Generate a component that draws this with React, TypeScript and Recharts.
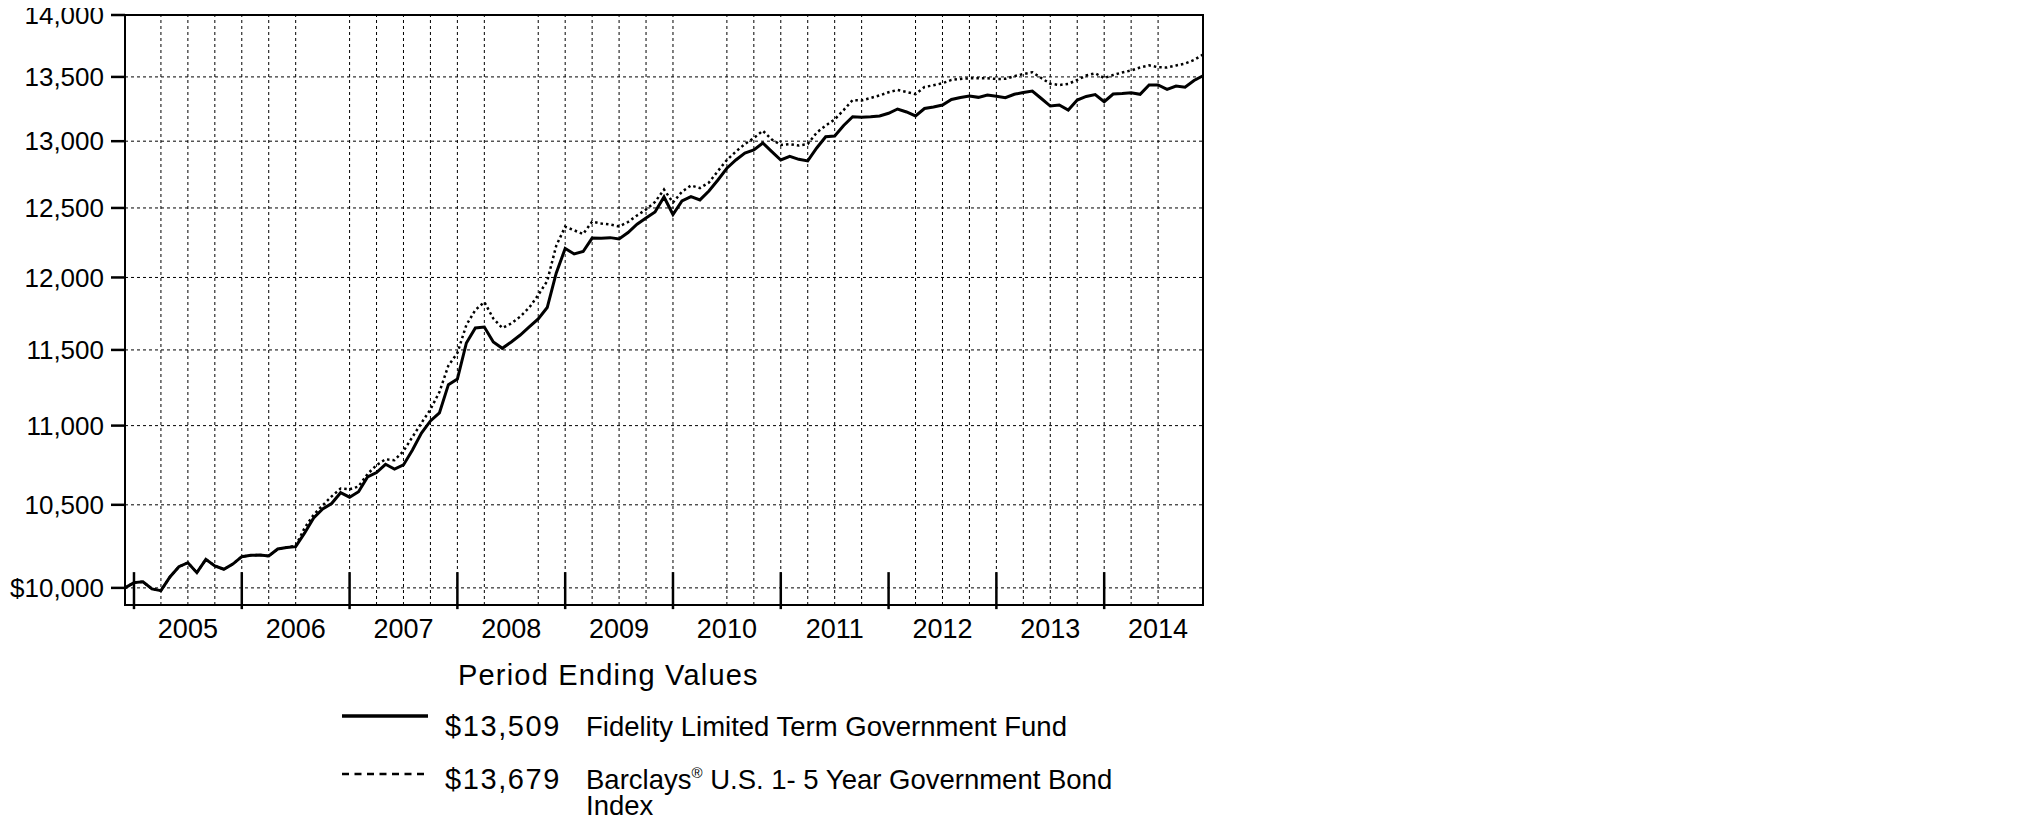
import React from 'react';
import {
  LineChart,
  Line,
  XAxis,
  YAxis,
  CartesianGrid,
  ReferenceLine,
  ReferenceArea,
} from 'recharts';

// ---- data (monthly, index 0 = start of the 10-year period) ----
const years = ['2005', '2006', '2007', '2008', '2009', '2010', '2011', '2012', '2013', '2014'];

const fundValues = [
  10000, 10031, 10036, 9994, 9984, 10064, 10125, 10149, 10090, 10169,
  10130, 10110, 10141, 10185, 10193, 10195, 10189, 10231, 10240, 10245,
  10328, 10419, 10474, 10508, 10575, 10547, 10581, 10673, 10701, 10753,
  10723, 10749, 10844, 10952, 11030, 11082, 11268, 11305, 11547, 11649,
  11656, 11554, 11511, 11554, 11601, 11656, 11711, 11790, 12030, 12206,
  12167, 12184, 12281, 12280, 12284, 12274, 12321, 12381, 12427, 12470,
  12581, 12452, 12551, 12584, 12559, 12625, 12707, 12795, 12857, 12910,
  12933, 12986, 12921, 12857, 12885, 12862, 12850, 12948, 13034, 13040,
  13120, 13188, 13184, 13188, 13194, 13215, 13248, 13225, 13194, 13252,
  13264, 13279, 13322, 13338, 13350, 13339, 13357, 13347, 13336, 13363,
  13377, 13389, 13330, 13271, 13279, 13240, 13318, 13346, 13361, 13305,
  13365, 13369, 13375, 13363, 13436, 13436, 13402, 13428, 13418, 13472,
  13509,
];

const indexValues = [
  10000, 10031, 10036, 9994, 9984, 10064, 10125, 10149, 10090, 10169,
  10130, 10110, 10141, 10185, 10193, 10195, 10189, 10231, 10240, 10250,
  10359, 10439, 10497, 10552, 10601, 10596, 10614, 10692, 10747, 10785,
  10779, 10837, 10927, 11017, 11105, 11219, 11395, 11479, 11670, 11773,
  11828, 11714, 11649, 11680, 11728, 11790, 11877, 11975, 12225, 12363,
  12337, 12310, 12400, 12387, 12379, 12365, 12397, 12445, 12489, 12544,
  12636, 12540, 12620, 12666, 12647, 12688, 12774, 12857, 12921, 12978,
  13024, 13080, 13013, 12971, 12977, 12967, 12978, 13066, 13120, 13167,
  13240, 13318, 13315, 13334, 13354, 13379, 13397, 13381, 13365, 13420,
  13434, 13450, 13476, 13484, 13489, 13489, 13489, 13484, 13485, 13506,
  13523, 13537, 13491, 13446, 13436, 13445, 13476, 13511, 13529, 13491,
  13515, 13535, 13551, 13575, 13592, 13577, 13575, 13591, 13606, 13635,
  13679,
];

const yTicks = [10000, 10500, 11000, 11500, 12000, 12500, 13000, 13500, 14000];
const yTickLabels = ['$10,000', '10,500', '11,000', '11,500', '12,000', '12,500', '13,000', '13,500', '14,000'];

// month positions of the year labels (mid-year), the heavy year marks, and the dotted grid
const yearLabelMonths = [7, 19, 31, 43, 55, 67, 79, 91, 103, 115];
const yearMarkMonths = [1, 13, 25, 37, 49, 61, 73, 85, 97, 109];
const gridMonths = [
  4, 7, 10, 13, 16, 19, 25, 28, 31, 34, 37, 40, 46, 49, 52, 55, 58, 61,
  67, 70, 73, 76, 79, 82, 88, 91, 94, 97, 100, 103, 106, 109, 112, 115,
];

const legendTitle = 'Period Ending Values';
const legendValues = ['$13,509', '$13,679'];
const legendNames = ['Fidelity Limited Term Government Fund', 'Barclays'];

const data = fundValues.map((v, i) => ({ m: i, fund: v, index: indexValues[i] }));

const FONT = '"Liberation Sans", Arial, sans-serif';

export default function App() {
  return (
    <div style={{ position: 'relative', width: 2017, height: 828, marginTop: -8, fontFamily: FONT }}>
      <LineChart
        width={1260}
        height={828}
        data={data}
        margin={{ top: 15, right: 65, bottom: 183, left: 0 }}
        style={{ fontFamily: FONT }}
      >
        <CartesianGrid vertical={false} stroke="#000" strokeWidth={1} strokeDasharray="3 3" />
        {gridMonths.map((m) => (
          <ReferenceLine key={'g' + m} x={m} stroke="#000" strokeWidth={1} strokeDasharray="3 3" />
        ))}
        <ReferenceArea x1={0} x2={120} y1={9900} y2={14000} fill="none" fillOpacity={0} stroke="#000" strokeWidth={2} />
        <XAxis
          type="number"
          dataKey="m"
          domain={[0, 120]}
          ticks={yearLabelMonths}
          interval={0}
          tickFormatter={(v: number) => years[yearLabelMonths.indexOf(v)]}
          tickLine={false}
          tickSize={6}
          tickMargin={8}
          height={40}
          axisLine={{ stroke: '#000', strokeWidth: 2 }}
          tick={{ fill: '#000', fontSize: 27, fontFamily: FONT }}
        />
        <YAxis
          scale="log"
          domain={[9900, 14000]}
          allowDataOverflow
          ticks={yTicks}
          interval={0}
          tickFormatter={(v: number) => yTickLabels[yTicks.indexOf(v)]}
          width={117}
          tickSize={14}
          tickMargin={7}
          tickLine={{ stroke: '#000', strokeWidth: 2.5 }}
          axisLine={{ stroke: '#000', strokeWidth: 2 }}
          tick={{ fill: '#000', fontSize: 26, fontFamily: FONT }}
        />
        {yearMarkMonths.map((m) => (
          <ReferenceLine
            key={'t' + m}
            segment={[{ x: m, y: 9876 }, { x: m, y: 10093 }]}
            stroke="#000"
            strokeWidth={2.5}
            ifOverflow="visible"
          />
        ))}
        <Line
          type="linear"
          dataKey="index"
          stroke="#000"
          strokeWidth={2.5}
          strokeDasharray="2.5 3"
          dot={false}
          isAnimationActive={false}
        />
        <Line
          type="linear"
          dataKey="fund"
          stroke="#000"
          strokeWidth={3}
          dot={false}
          isAnimationActive={false}
        />
      </LineChart>
      <svg
        width={1400}
        height={188}
        style={{ position: 'absolute', left: 0, top: 640, fontFamily: FONT }}
      >
        <text x={450} y={45} fontSize={29} letterSpacing={1.2} fill="#000">{legendTitle}</text>
        <line x1={334} x2={420} y1={76} y2={76} stroke="#000" strokeWidth={3.5} />
        <text x={437} y={96} fontSize={29} letterSpacing={1.6} fill="#000">{legendValues[0]}</text>
        <text x={578} y={96} fontSize={27.5} fill="#000">{legendNames[0]}</text>
        <line x1={334} x2={420} y1={134} y2={134} stroke="#000" strokeWidth={2.5} strokeDasharray="7 5.5" />
        <text x={437} y={149} fontSize={29} letterSpacing={1.6} fill="#000">{legendValues[1]}</text>
        <text x={578} y={149} fontSize={27.5} fill="#000">
          {legendNames[1]}
          <tspan fontSize={15} dy={-11}>®</tspan>
          <tspan dy={11}> U.S. 1- 5 Year Government Bond</tspan>
        </text>
        <text x={578} y={175} fontSize={27.5} fill="#000">Index</text>
      </svg>
    </div>
  );
}
